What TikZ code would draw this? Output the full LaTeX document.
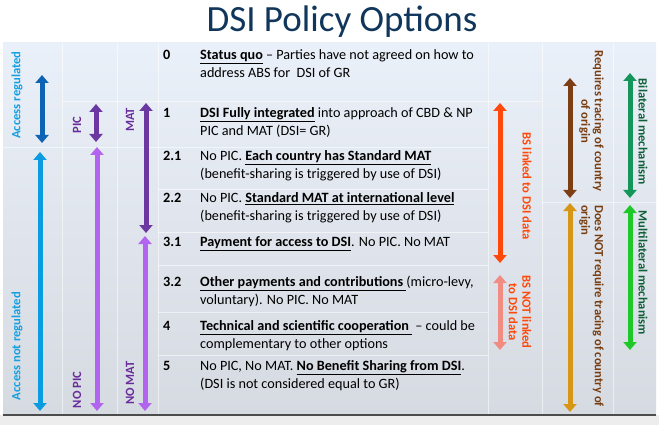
\documentclass[tikz,border=0pt]{standalone}
\usepackage{fontspec}
\setmainfont{Carlito}
\usetikzlibrary{arrows.meta}
\definecolor{titlec}{RGB}{16,54,92}
\definecolor{accl}{RGB}{20,160,225}
\definecolor{accreg}{RGB}{14,100,180}
\definecolor{accnot}{RGB}{10,155,225}
\definecolor{purd}{RGB}{107,55,160}
\definecolor{purl}{RGB}{178,100,240}
\definecolor{purt}{RGB}{105,45,155}
\definecolor{orng}{RGB}{255,72,10}
\definecolor{salm}{RGB}{240,140,130}
\definecolor{brwn}{RGB}{125,62,20}
\definecolor{brwt}{RGB}{120,62,18}
\definecolor{gold}{RGB}{215,150,20}
\definecolor{grnd}{RGB}{20,150,90}
\definecolor{grnb}{RGB}{30,200,40}
\definecolor{grnt}{RGB}{15,95,55}
\definecolor{bgtop}{RGB}{234,240,249}
\definecolor{bgbot}{RGB}{214,218,225}
\tikzset{
  dbl/.style={line width=5pt,{Triangle[width=13pt,length=8pt]}-{Triangle[width=13pt,length=8pt]}},
  num/.style={anchor=base west,inner sep=0,font=\fontsize{14.2}{16}\selectfont\bfseries},
  txt/.style={anchor=base west,inner sep=0,font=\fontsize{14.2}{16}\selectfont},
  lab/.style={inner sep=0,font=\fontsize{12.6}{13.5}\selectfont\bfseries},
  grid/.style={white,line width=1pt,opacity=0.55}
}
\newcommand{\ub}[1]{\underline{\textbf{#1}}}
\begin{document}
\begin{tikzpicture}[x=1pt,y=-1pt]
\useasboundingbox (0,0) rectangle (659,425);
\fill[white] (0,0) rectangle (659,425);
\shade[top color=bgtop,bottom color=bgbot] (3,43) rectangle (656,414);
\fill[black!7] (0,415) rectangle (659,425);
\draw[black!70,line width=1.5pt] (3,415) -- (656,415);
% faint grid
\draw[grid] (62,43) -- (62,414);
\draw[grid] (117,43) -- (117,414);
\draw[grid] (158,43) -- (158,414);
\draw[grid] (488,43) -- (488,414);
\draw[grid] (542,43) -- (542,414);
\draw[grid] (613,43) -- (613,414);
\draw[grid] (62,102) -- (488,102);
\draw[grid] (3,148) -- (488,148);
\draw[grid] (158,190) -- (488,190);
\draw[grid] (158,232) -- (488,232);
\draw[grid] (158,265) -- (488,265);
\draw[grid] (158,312) -- (488,312);
\draw[grid] (158,355) -- (488,355);
\draw[grid] (488,102) -- (542,102);
\draw[grid] (542,203) -- (656,203);
% title
\node[anchor=base,inner sep=0,text=titlec,font=\fontsize{37}{40}\selectfont] (title) at (342,32) {DSI Policy Options};
% numbers and text
\node[num] (n0) at (163,59.5) {0};
\node[txt] (t0a) at (200,59.5) {\ub{Status quo} -- Parties have not agreed on how to};
\node[txt] (t0b) at (200,77.5) {address ABS for\ \ DSI of GR};
\node[num] (n1) at (163,117.5) {1};
\node[txt] (t1a) at (200,117.5) {\ub{DSI Fully integrated} into approach of CBD \& NP};
\node[txt] (t1b) at (200,135.5) {PIC and MAT (DSI= GR)};
\node[num] (n21) at (163,160.5) {2.1};
\node[txt] (t21a) at (200,160.5) {No PIC. \ub{Each country has Standard MAT}};
\node[txt] (t21b) at (200,178.5) {(benefit-sharing is triggered by use of DSI)};
\node[num] (n22) at (163,202.5) {2.2};
\node[txt] (t22a) at (200,202.5) {No PIC. \ub{Standard MAT at international level}};
\node[txt] (t22b) at (200,220.5) {(benefit-sharing is triggered by use of DSI)};
\node[num] (n31) at (163,246.5) {3.1};
\node[txt] (t31a) at (200,246.5) {\ub{Payment for access to DSI}. No PIC. No MAT};
\node[num] (n32) at (163,286.5) {3.2};
\node[txt] (t32a) at (200,286.5) {\ub{Other payments and contributions }(micro-levy,};
\node[txt] (t32b) at (200,304.5) {voluntary). No PIC. No MAT};
\node[num] (n4) at (163,330.5) {4};
\node[txt] (t4a) at (200,330.5) {\ub{Technical and scientific cooperation\ } -- could be};
\node[txt] (t4b) at (200,348.5) {complementary to other options};
\node[num] (n5) at (163,370.5) {5};
\node[txt] (t5a) at (200,370.5) {No PIC, No MAT. \ub{No Benefit Sharing from DSI}.};
\node[txt] (t5b) at (200,388.5) {(DSI is not considered equal to GR)};
% left arrows
\coordinate (arT) at (42,75);  \coordinate (arB) at (42,143);
\coordinate (anT) at (40,152); \coordinate (anB) at (40,411);
\coordinate (pT) at (96,104);  \coordinate (pB) at (96,142);
\coordinate (npT) at (97,147); \coordinate (npB) at (97,411);
\coordinate (mT) at (146,103); \coordinate (mB) at (146,233);
\coordinate (nmT) at (145,236);\coordinate (nmB) at (145,411);
\draw[dbl,accreg] (arT) -- (arB);
\draw[dbl,accnot] (anT) -- (anB);
\draw[dbl,purd] (pT) -- (pB);
\draw[dbl,purl] (npT) -- (npB);
\draw[dbl,purd] (mT) -- (mB);
\draw[dbl,purl] (nmT) -- (nmB);
\node[lab,rotate=90,text=accl] (lar) at (17,95) {Access regulated};
\node[lab,rotate=90,text=accl] (lan) at (17,346) {Access not regulated};
\node[lab,rotate=90,text=purt] (lp) at (77,125) {PIC};
\node[lab,rotate=90,text=purt] (lnp) at (77,390) {NO PIC};
\node[lab,rotate=90,text=purt] (lm) at (130,120) {MAT};
\node[lab,rotate=90,text=purt] (lnm) at (130,383) {NO MAT};
% right arrows
\coordinate (bsT) at (500,103);  \coordinate (bsB) at (500,263);
\coordinate (bnT) at (500,275);  \coordinate (bnB) at (500,350);
\coordinate (rqT) at (570,78);   \coordinate (rqB) at (570,198);
\coordinate (dnT) at (570,203);  \coordinate (dnB) at (570,412);
\coordinate (biT) at (630,73);   \coordinate (biB) at (630,198);
\coordinate (muT) at (630,205);  \coordinate (muB) at (630,350);
\draw[dbl,orng] (bsT) -- (bsB);
\draw[dbl,salm] (bnT) -- (bnB);
\draw[dbl,brwn] (rqT) -- (rqB);
\draw[dbl,gold] (dnT) -- (dnB);
\draw[dbl,grnd] (biT) -- (biB);
\draw[dbl,grnb] (muT) -- (muB);
\node[lab,rotate=-90,text=orng] (lbs) at (527,186) {BS linked to DSI data};
\node[lab,rotate=-90,text=orng,align=center] (lbn) at (520,312) {BS NOT linked\\to DSI data};
\node[lab,rotate=-90,text=brwt,align=center] (lrq) at (591.5,121) {Requires tracing of country\\of origin};
\node[lab,rotate=-90,text=brwt,align=left,anchor=west] (ldn) at (591.5,205) {Does NOT require tracing of country of\\origin};
\node[lab,rotate=-90,text=grnt] (lbi) at (643,132) {Bilateral mechanism};
\node[lab,rotate=-90,text=grnt] (lmu) at (643,273) {Multilateral mechanism};
\end{tikzpicture}
\end{document}
